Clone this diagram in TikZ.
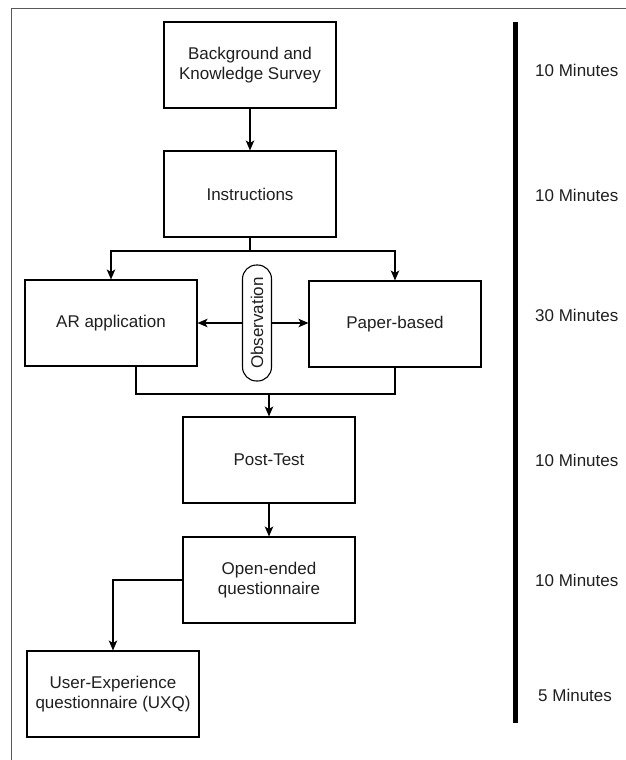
\documentclass[tikz,border=0pt]{standalone}
\usepackage{fontspec}
\setmainfont{Liberation Sans}
\usetikzlibrary{arrows.meta}
\begin{document}
\begin{tikzpicture}[x=1pt,y=-1pt,
  every node/.style={font=\fontsize{17}{20}\selectfont, text=black!88},
  stagebox/.style={draw, line width=1.1pt, minimum width=172pt, minimum height=86pt,
    align=center, inner sep=2pt},
  pill/.style={draw, line width=1.1pt, rotate=90, minimum width=116pt, minimum height=29pt,
    rounded corners=14pt, inner sep=1pt},
  link/.style={line width=1.1pt},
  flow/.style={link, -{Stealth[length=10pt,width=8.5pt,inset=2.5pt]}},
  timing/.style={anchor=west, inner sep=0pt}]
  \useasboundingbox (0,0) rectangle (626,760);
  % outer frame (open to the right and bottom)
  \draw[line width=0.9pt, black!65] (640,8) -- (11,8) -- (11,770);

  % stages
  \node[stagebox] (bg)   at (250,65)  {Background and\\Knowledge Survey};
  \node[stagebox] (ins)  at (250,194) {Instructions};
  \node[stagebox] (ar)   at (111,323) {AR application};
  \node[stagebox] (pb)   at (395,324) {Paper-based};
  \node[pill]     (obs)  at (257,323) {Observation};
  \node[stagebox] (post) at (269,460) {Post-Test};
  \node[stagebox] (open) at (269,580) {Open-ended\\questionnaire};
  \node[stagebox] (uxq)  at (113,694) {User-Experience\\questionnaire (UXQ)};

  % connectors
  \draw[flow] (bg.south) -- (ins.north);
  \coordinate (split) at (250,251);
  \draw[link] (ins.south) -- (split);
  \draw[flow] (split) -| (ar.north);
  \draw[flow] (split) -| (pb.north);
  \draw[flow] (obs.north) -- (obs.north -| ar.east);
  \draw[flow] (obs.south) -- (obs.south -| pb.west);
  \coordinate (merge) at (269,394);
  \draw[link] ([xshift=25pt]ar.south) |- (merge);
  \draw[link] (pb.south) |- (merge);
  \draw[flow] (merge) -- (post.north);
  \draw[flow] (post.south) -- (open.north);
  \draw[flow] (open.west) -| (uxq.north);

  % timeline bar with durations
  \coordinate (bartop) at (515,22);
  \coordinate (barbot) at (515,723);
  \draw[line width=5pt] (bartop) -- (barbot);
  \node[timing] (t1) at (535,70)  {10 Minutes};
  \node[timing] (t2) at (535,195) {10 Minutes};
  \node[timing] (t3) at (535,315) {30 Minutes};
  \node[timing] (t4) at (535,460) {10 Minutes};
  \node[timing] (t5) at (535,580) {10 Minutes};
  \node[timing] (t6) at (538,695) {5 Minutes};
\end{tikzpicture}
\end{document}
